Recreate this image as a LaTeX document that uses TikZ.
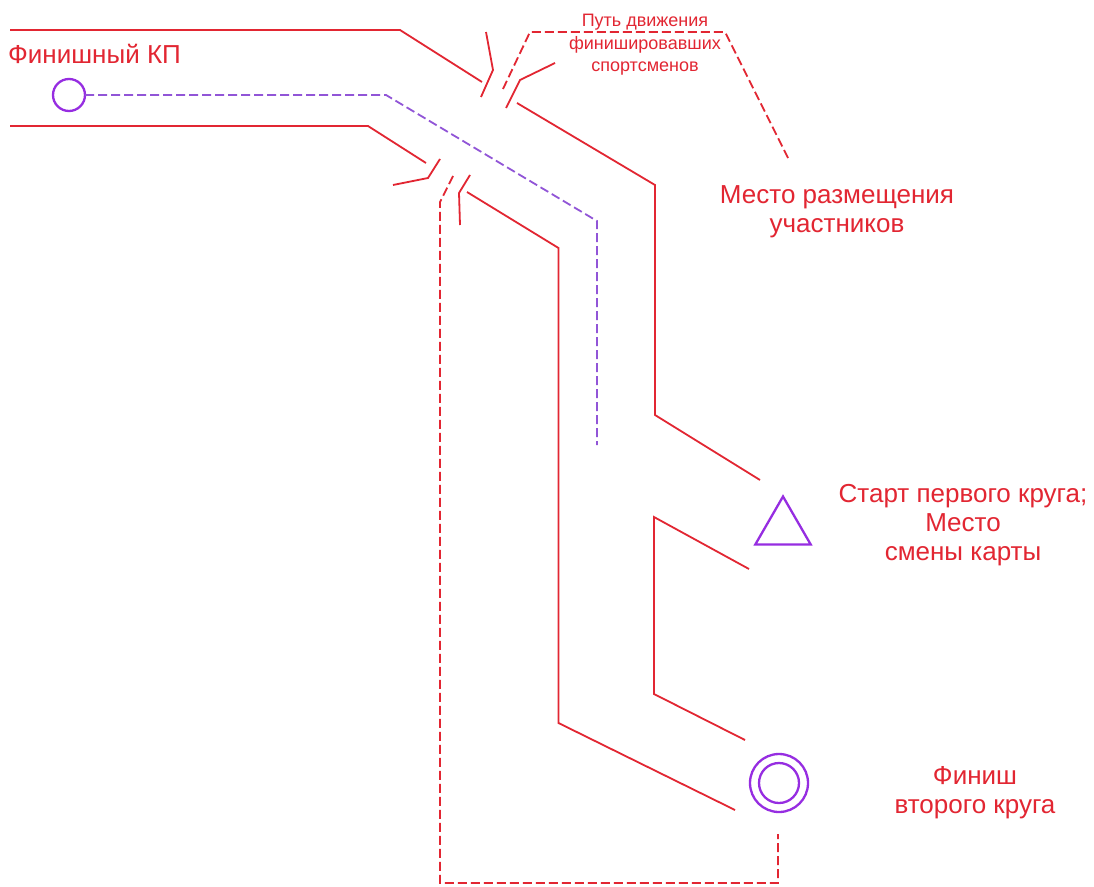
\documentclass[tikz,border=0pt]{standalone}
\usepackage{fontspec}
\setmainfont{Liberation Sans}
\usetikzlibrary{shapes.geometric}
\definecolor{rd}{RGB}{226,38,50}
\definecolor{pu}{RGB}{150,45,225}
\definecolor{pul}{RGB}{145,85,215}
\begin{document}
\begin{tikzpicture}[x=1pt,y=-1pt,
  wall/.style={draw=rd, line width=1.8pt, line join=miter},
  rdash/.style={draw=rd, line width=1.8pt, dash pattern=on 9pt off 4pt},
  pdash/.style={draw=pul, line width=1.8pt, dash pattern=on 9pt off 4pt},
  symb/.style={draw=pu, line width=2.3pt, inner sep=0pt, outer sep=0pt},
  lbl/.style={text=rd, font=\fontsize{26}{29}\selectfont, align=center, inner sep=0pt},
  smalllbl/.style={text=rd, font=\fontsize{18}{22.5}\selectfont, align=center, inner sep=0pt}]
\useasboundingbox (0,0) rectangle (1094,886);
\fill[white] (0,0) rectangle (1094,886);

% markers
\node[symb, circle, minimum size=32pt] (kp) at (69,95) {};
\node[symb, regular polygon, regular polygon sides=3, minimum size=64pt] (start) at (783,528.5) {};
\node[symb, circle, minimum size=58pt] (fin2) at (779,783) {};
\node[symb, circle, minimum size=40pt] (fin2in) at (fin2.center) {};

% corridor walls
\draw[wall] (10,30) -- (400,30) -- (482,82);
\draw[wall] (486,32) -- (493,70) -- (481,97);
\draw[wall] (506,108) -- (520,80) -- (555,63);
\draw[wall] (517,103) -- (655,185) -- (655,415) -- (760,480);
\draw[wall] (749,569) -- (654,517) -- (654,694) -- (745,740);
\draw[wall] (10,126) -- (368,126) -- (426,163);
\draw[wall] (440,159) -- (428,178) -- (393,185);
\draw[wall] (470,175) -- (459,193) -- (460,225);
\draw[wall] (467,192) -- (558.5,248) -- (558.5,723) -- (735,810);

% dashed paths
\draw[rdash] (503,89) -- (530,32) -- (725,32) -- (788,158);
\draw[rdash] (453,176) -- (440,202) -- (440,883) -- (778,883) -- (778,834);
\draw[pdash] (kp.east) -- (386,95) -- (597,221) -- (597,445);

% labels
\node[lbl, anchor=base west] (tkp) at (8,63) {Финишный КП};
\node[smalllbl] (tpath) at (645,45) {Путь движения\\финишировавших\\спортсменов};
\node[lbl] (tplace) at (837,211.5) {Место размещения\\участников};
\node[lbl] (tstart) at (963,525.5) {Старт первого круга;\\Место\\смены карты};
\node[lbl] (tfin) at (975,793) {Финиш\\второго круга};
\end{tikzpicture}
\end{document}
